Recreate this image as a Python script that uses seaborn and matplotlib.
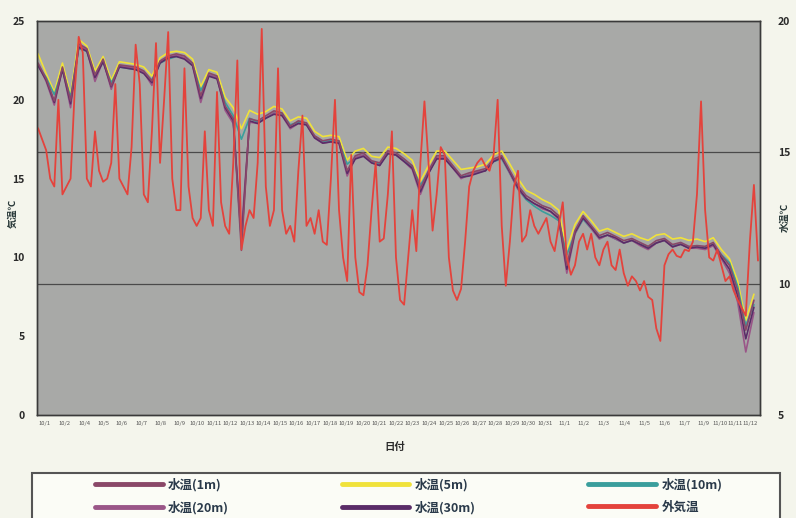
import numpy as np
import pandas as pd
import matplotlib
matplotlib.use("Agg")
import matplotlib.pyplot as plt
from matplotlib.lines import Line2D
from matplotlib.patches import Rectangle
import seaborn as sns

# ---- data ----
# outside air temperature (left axis, deg C), evenly spaced samples
air = [18.2, 17.5, 16.8, 15.0, 14.5, 20.0, 14.0, 14.5, 15.0, 20.5,
       24.0, 23.0, 15.0, 14.5, 18.0, 15.5, 14.8, 15.0, 16.0, 21.0,
       15.0, 14.5, 14.0, 17.0, 23.5, 21.0, 14.0, 13.5, 18.0, 23.6,
       16.0, 20.0, 24.3, 15.0, 13.0, 13.0, 22.0, 14.5, 12.5, 12.0,
       12.5, 18.0, 13.0, 12.0, 20.5, 13.5, 12.0, 11.5, 16.0, 22.5,
       10.5, 12.0, 13.0, 12.5, 16.0, 24.5, 14.5, 12.0, 13.0, 22.0,
       13.0, 11.5, 12.0, 11.0, 15.5, 19.0, 12.0, 12.5, 11.5, 13.0,
       11.0, 10.8, 15.0, 20.0, 13.0, 10.0, 8.5, 16.5, 10.0, 7.8,
       7.6, 9.5, 13.0, 16.0, 11.0, 11.2, 14.0, 18.0, 10.0, 7.3,
       7.0, 10.0, 13.0, 10.4, 16.0, 19.9, 16.0, 11.7, 14.0, 17.0,
       16.5, 10.0, 7.9, 7.3, 8.0, 11.0, 14.5, 15.5, 16.0, 16.3,
       15.8, 15.5, 16.5, 20.0, 12.0, 8.2, 11.0, 14.5, 15.5, 11.0,
       11.4, 13.0, 12.0, 11.5, 12.0, 12.5, 11.0, 10.4, 12.0, 13.5,
       10.0, 8.9, 9.5, 11.0, 11.5, 10.5, 11.5, 10.0, 9.5, 10.5,
       11.0, 9.5, 9.2, 10.5, 9.0, 8.2, 8.8, 8.5, 7.9, 8.5,
       7.5, 7.3, 5.5, 4.7, 9.5, 10.2, 10.5, 10.1, 10.0, 10.5,
       10.4, 11.0, 14.0, 19.9, 13.0, 10.0, 9.8, 10.5, 9.5, 8.5,
       8.8, 7.9, 7.3, 6.8, 6.3, 11.0, 14.6, 9.8]

# water temperatures (right axis, deg C), one sample per two air samples
w1m = [18.40, 17.80, 16.96, 18.25, 16.96, 19.13, 18.95, 17.95, 18.55, 17.53,
       18.33, 18.29, 18.25, 18.10, 17.72, 18.48, 18.67, 18.75, 18.67, 18.40,
       17.15, 18.02, 17.91, 16.77, 16.28, 11.27, 16.28, 16.20, 16.39, 16.58,
       16.50, 16.00, 16.20, 16.12, 15.63, 15.44, 15.50, 15.44, 14.30, 14.87,
       14.98, 14.68, 14.60, 15.06, 14.98, 14.75, 14.49, 13.62, 14.30, 14.87,
       14.87, 14.49, 14.11, 14.22, 14.30, 14.38, 14.75, 14.87, 14.30, 13.73,
       13.35, 13.16, 12.97, 12.86, 12.59, 10.70, 12.02, 12.59, 12.21, 11.83,
       11.95, 11.80, 11.64, 11.72, 11.57, 11.42, 11.64, 11.72, 11.49, 11.57,
       11.42, 11.45, 11.42, 11.57, 11.08, 10.70, 9.75, 8.23, 9.37]
w5m = [18.75, 18.00, 17.30, 18.40, 17.20, 19.30, 19.05, 18.10, 18.65, 17.75,
       18.45, 18.40, 18.35, 18.25, 17.90, 18.60, 18.80, 18.85, 18.80, 18.55,
       17.50, 18.15, 18.05, 17.10, 16.70, 15.90, 16.60, 16.45, 16.55, 16.75,
       16.65, 16.20, 16.35, 16.30, 15.80, 15.60, 15.65, 15.60, 14.70, 15.05,
       15.15, 14.85, 14.80, 15.20, 15.15, 14.95, 14.70, 13.90, 14.50, 15.05,
       15.05, 14.70, 14.35, 14.40, 14.45, 14.55, 14.90, 15.05, 14.55, 14.00,
       13.55, 13.40, 13.20, 13.05, 12.80, 11.30, 12.25, 12.75, 12.40, 12.00,
       12.10, 11.95, 11.80, 11.90, 11.75, 11.65, 11.85, 11.90, 11.70, 11.75,
       11.65, 11.70, 11.60, 11.75, 11.30, 10.95, 10.10, 8.60, 9.60]
w10m = [18.30, 17.85, 17.20, 18.15, 17.10, 18.95, 18.85, 17.95, 18.45, 17.65,
        18.25, 18.20, 18.15, 18.05, 17.75, 18.40, 18.55, 18.65, 18.60, 18.35,
        17.35, 17.95, 17.85, 16.90, 16.40, 15.50, 16.30, 16.15, 16.30, 16.50,
        16.45, 16.05, 16.15, 16.05, 15.60, 15.40, 15.45, 15.40, 14.55, 14.80,
        14.90, 14.65, 14.55, 14.95, 14.90, 14.70, 14.45, 13.75, 14.25, 14.80,
        14.80, 14.45, 14.05, 14.15, 14.25, 14.30, 14.65, 14.75, 14.20, 13.60,
        13.20, 12.95, 12.75, 12.60, 12.40, 11.10, 11.90, 12.45, 12.10, 11.75,
        11.85, 11.70, 11.55, 11.65, 11.50, 11.40, 11.55, 11.65, 11.45, 11.50,
        11.40, 11.40, 11.35, 11.50, 11.10, 10.80, 9.90, 8.40, 9.20]
w20m = [18.35, 17.70, 16.80, 18.20, 16.70, 19.05, 18.90, 17.70, 18.50, 17.40,
        18.30, 18.25, 18.20, 18.05, 17.55, 18.45, 18.60, 18.70, 18.60, 18.30,
        16.90, 17.95, 17.85, 16.60, 16.10, 12.00, 16.15, 16.10, 16.30, 16.50,
        16.40, 15.90, 16.10, 16.05, 15.55, 15.35, 15.40, 15.35, 14.10, 14.80,
        14.90, 14.60, 14.50, 15.00, 14.90, 14.65, 14.35, 13.40, 14.20, 14.80,
        14.80, 14.40, 14.00, 14.15, 14.25, 14.30, 14.70, 14.80, 14.20, 13.60,
        13.25, 13.05, 12.85, 12.75, 12.45, 10.40, 11.90, 12.50, 12.10, 11.70,
        11.85, 11.70, 11.55, 11.65, 11.45, 11.30, 11.55, 11.65, 11.40, 11.50,
        11.35, 11.35, 11.30, 11.45, 10.95, 10.40, 9.30, 7.40, 8.90]
w30m = [18.30, 17.75, 16.90, 18.15, 16.85, 19.00, 18.85, 17.85, 18.45, 17.50,
        18.25, 18.20, 18.15, 18.00, 17.65, 18.40, 18.60, 18.65, 18.55, 18.30,
        17.05, 17.90, 17.80, 16.70, 16.20, 11.60, 16.20, 16.10, 16.30, 16.45,
        16.40, 15.95, 16.10, 16.05, 15.55, 15.35, 15.40, 15.35, 14.20, 14.75,
        14.85, 14.60, 14.50, 14.95, 14.90, 14.65, 14.40, 13.50, 14.20, 14.75,
        14.75, 14.40, 14.05, 14.10, 14.20, 14.30, 14.65, 14.80, 14.25, 13.65,
        13.25, 13.05, 12.90, 12.75, 12.50, 10.55, 11.95, 12.50, 12.15, 11.75,
        11.85, 11.75, 11.55, 11.65, 11.50, 11.35, 11.55, 11.65, 11.40, 11.50,
        11.35, 11.40, 11.35, 11.50, 11.00, 10.55, 9.55, 7.90, 9.10]

date_labels = ["10/1", "10/2", "10/4", "10/5", "10/6", "10/7", "10/8", "10/9",
               "10/10", "10/11", "10/12", "10/13", "10/14", "10/15", "10/16",
               "10/17", "10/18", "10/19", "10/20", "10/21", "10/22", "10/23",
               "10/24", "10/25", "10/26", "10/27", "10/28", "10/29", "10/30",
               "10/31", "11/1", "11/2", "11/3", "11/4", "11/5", "11/6", "11/7",
               "11/9", "11/10", "11/11", "11/12"]
date_pos = [1.7, 6.6, 11.3, 16.0, 20.6, 25.3, 30.0, 34.7,
            39.1, 43.2, 47.2, 51.3, 55.4, 59.5, 63.5, 67.6, 71.7, 75.7, 79.8,
            83.9, 88.0, 92.0, 96.1, 100.2, 104.2, 108.3, 112.4, 116.5, 120.5,
            124.6, 129.3, 134.2, 139.1, 144.1, 149.0, 153.9, 158.8, 163.7,
            167.7, 171.3, 175.0]

names = ["水温(1m)", "水温(5m)", "水温(10m)", "水温(20m)", "水温(30m)", "外気温"]
colors = ["#8a4868", "#f0e23a", "#3a9e9c", "#9a5688", "#5a2c68", "#e4433c"]

# ---- styling ----
sns.set_style("white")
plt.rcParams['font.family'] = ['Noto Sans CJK JP', 'DejaVu Sans']

fig = plt.figure(figsize=(7.96, 5.18), dpi=100, facecolor="#f4f5ec")
ax = fig.add_axes([0.0465, 0.1988, 0.9083, 0.7606])
ax2 = ax.twinx()
ax2.patch.set_visible(True)
ax2.set_facecolor("#a8a9a7")
ax.set_zorder(ax2.get_zorder() + 1)
ax.patch.set_visible(False)

wx = np.arange(len(w1m)) * 2
order = [1, 2, 3, 4, 0]
series = [w1m, w5m, w10m, w20m, w30m]
for k in order:
    df = pd.DataFrame({"x": wx, "t": series[k]})
    sns.lineplot(data=df, x="x", y="t", ax=ax2, color=colors[k], lw=1.2,
                 legend=False)

adf = pd.DataFrame({"x": np.arange(len(air)), "t": air})
sns.lineplot(data=adf, x="x", y="t", ax=ax, color=colors[5], lw=1.3,
             legend=False)

ax.set_xlim(-0.25, 177.5)
ax.set_ylim(0, 25)
ax2.set_ylim(5, 20)
ax.set_yticks([0, 5, 10, 15, 20, 25])
ax2.set_yticks([5, 10, 15, 20])
for v in [10, 15]:
    ax2.axhline(v, color="#4a4a4a", lw=0.9, zorder=0.5)

ax.set_xticks(date_pos)
ax.set_xticklabels(date_labels, fontsize=4.2, color="#555555")
ax.tick_params(axis="x", length=0, pad=4)
ax.tick_params(axis="y", length=0, pad=9, labelsize=7.5, labelcolor="#2a2a2a")
ax2.tick_params(axis="y", length=0, pad=13, labelsize=7.5, labelcolor="#2a2a2a")
for lab in ax.get_yticklabels() + ax2.get_yticklabels():
    lab.set_fontweight("bold")

ax.set_xlabel("")
ax.set_ylabel("")
ax2.set_ylabel("")
ax2.set_xlabel("")

for a in (ax, ax2):
    for s in a.spines.values():
        s.set_color("#3a3a3a")
        s.set_linewidth(1.0)

fig.text(13 / 796, 1 - 213 / 518, "気温℃", rotation=90, fontsize=7,
         fontweight="bold", color="#2a3a3a", ha="center", va="center")
fig.text(785 / 796, 1 - 217 / 518, "水温℃", rotation=90, fontsize=7,
         fontweight="bold", color="#2a3a3a", ha="center", va="center")
fig.text(395 / 796, 1 - 447 / 518, "日付", fontsize=7.5, fontweight="bold",
         color="#2a2a2a", ha="center", va="center")

# legend box (cut off at the bottom of the picture, as in the reference)
fig.add_artist(Rectangle((32 / 796, -0.05), (780 - 32) / 796,
                         (1 - 473 / 518) + 0.05, transform=fig.transFigure,
                         facecolor="#fbfcf6", edgecolor="#555555", lw=1.5,
                         zorder=1))
handles = [Line2D([], [], color=c, lw=3.5) for c in colors]
leg_order = [0, 3, 1, 4, 2, 5]
leg = fig.legend([handles[i] for i in leg_order], [names[i] for i in leg_order],
                 ncol=3, loc="upper left",
                 bbox_to_anchor=(95 / 796, 1 - 478 / 518),
                 fontsize=9, handlelength=5.4, handletextpad=0.45,
                 columnspacing=9.0, frameon=False,
                 borderaxespad=0, borderpad=0, labelspacing=0.75)
leg.set_zorder(2)
for t in leg.get_texts():
    t.set_fontweight("bold")
    t.set_color("#2a3a4a")

fig.savefig("out.png", dpi=100, facecolor=fig.get_facecolor())
